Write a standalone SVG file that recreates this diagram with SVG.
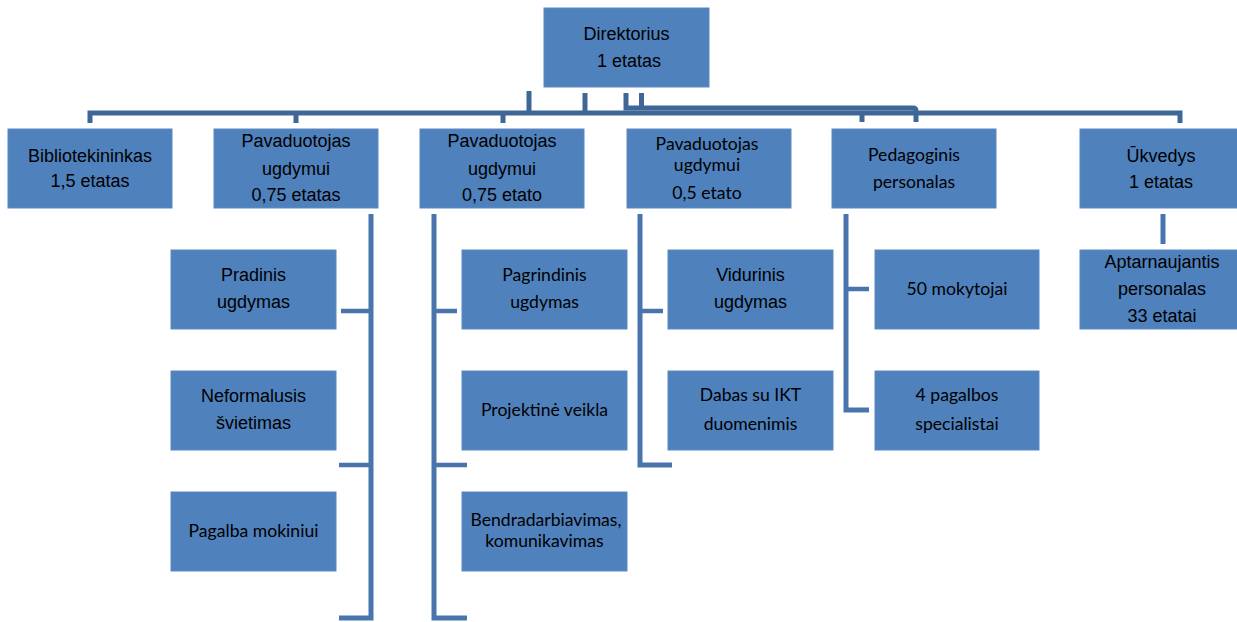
<svg xmlns="http://www.w3.org/2000/svg" width="1237" height="622" viewBox="0 0 1237 622">
<style>
.box{fill:#4f81bd;stroke:#5a8ac4;stroke-width:1}
.a{font-family:"Liberation Sans",Arial,sans-serif;font-size:18px;fill:#000;text-anchor:middle}
.c{font-family:Lato,"Noto Sans",sans-serif;font-size:17.6px;fill:#000;text-anchor:middle}
.top{fill:none;stroke:#3e6697;stroke-width:5}
.low{fill:none;stroke:#4a74ad;stroke-width:5}
.stub{fill:none;stroke:#4a74ad;stroke-width:4.5}
</style>
<rect width="1237" height="622" fill="#fff"/>
<g id="connectors">
<path class="top" d="M529,91 V113.5 M585,93 V113.5 M641.5,93 V108"/>
<path class="top" d="M626,93 V108 H913 Q916,108 916,111 V122"/>
<path class="top" d="M90,123 V113 H1180 V123 M296,113 V123 M503,113 V123 M862,113 V122"/>
<path class="low" d="M339,618 H371 V214"/>
<path class="stub" d="M341,311 H371 M339,465 H371"/>
<path class="low" d="M434,214 V618 H467"/>
<path class="stub" d="M434,311 H457 M434,465 H467"/>
<path class="low" d="M640,214 V465 H672"/>
<path class="stub" d="M640,311 H663"/>
<path class="low" d="M846,214 V410 H869"/>
<path class="stub" d="M846,289 H869"/>
<path class="low" d="M1163,214 V244"/>
</g>
<g id="direktorius">
<rect class="box" x="544" y="8" width="165" height="79"/>
<text class="a" x="626.5" y="40">Direktorius</text>
<text class="a" x="629" y="67">1 etatas</text>
</g>
<g id="bibliotekininkas">
<rect class="box" x="8" y="129" width="164" height="79"/>
<text class="a" x="90" y="162">Bibliotekininkas</text>
<text class="a" x="90" y="187">1,5 etatas</text>
</g>
<g id="pavaduotojas1">
<rect class="box" x="214" y="129" width="164" height="79"/>
<text class="a" x="296" y="147">Pavaduotojas</text>
<text class="a" x="296" y="174.5">ugdymui</text>
<text class="a" x="296" y="201">0,75 etatas</text>
</g>
<g id="pavaduotojas2">
<rect class="box" x="420" y="129" width="164" height="79"/>
<text class="a" x="502" y="147">Pavaduotojas</text>
<text class="a" x="502" y="174.5">ugdymui</text>
<text class="a" x="502" y="201">0,75 etato</text>
</g>
<g id="pavaduotojas3">
<rect class="box" x="627" y="129" width="164" height="79"/>
<text class="c" x="707" y="150">Pavaduotojas</text>
<text class="c" x="707" y="171">ugdymui</text>
<text class="c" x="707" y="199">0,5 etato</text>
</g>
<g id="pedagoginis">
<rect class="box" x="832" y="129" width="164" height="79"/>
<text class="c" x="914" y="161">Pedagoginis</text>
<text class="c" x="914" y="188">personalas</text>
</g>
<g id="ukvedys">
<rect class="box" x="1080" y="129" width="164" height="79"/>
<text class="a" x="1161" y="162">Ūkvedys</text>
<text class="a" x="1161" y="188">1 etatas</text>
</g>
<g id="pradinis">
<rect class="box" x="171" y="250" width="165" height="79"/>
<text class="a" x="253.5" y="281">Pradinis</text>
<text class="a" x="253.5" y="307.5">ugdymas</text>
</g>
<g id="neformalusis">
<rect class="box" x="171" y="371" width="165" height="79"/>
<text class="a" x="253.5" y="402">Neformalusis</text>
<text class="a" x="253.5" y="428.5">švietimas</text>
</g>
<g id="pagalba">
<rect class="box" x="171" y="492" width="165" height="79"/>
<text class="c" x="253.5" y="537">Pagalba mokiniui</text>
</g>
<g id="pagrindinis">
<rect class="box" x="462" y="250" width="165" height="79"/>
<text class="c" x="544.5" y="281">Pagrindinis</text>
<text class="c" x="544.5" y="308">ugdymas</text>
</g>
<g id="projektine">
<rect class="box" x="462" y="371" width="165" height="79"/>
<text class="c" x="544.5" y="416">Projektinė veikla</text>
</g>
<g id="bendradarbiavimas">
<rect class="box" x="462" y="492" width="165" height="79"/>
<text class="c" x="546" y="526">Bendradarbiavimas,</text>
<text class="c" x="544.5" y="546.5">komunikavimas</text>
</g>
<g id="vidurinis">
<rect class="box" x="668" y="250" width="165" height="79"/>
<text class="a" x="750.5" y="281">Vidurinis</text>
<text class="a" x="750.5" y="307.5">ugdymas</text>
</g>
<g id="dabas">
<rect class="box" x="668" y="371" width="165" height="79"/>
<text class="c" x="750.5" y="401">Dabas su IKT</text>
<text class="c" x="750.5" y="430">duomenimis</text>
</g>
<g id="mokytojai">
<rect class="box" x="875" y="250" width="164" height="79"/>
<text class="c" x="957" y="295">50 mokytojai</text>
</g>
<g id="specialistai">
<rect class="box" x="875" y="371" width="164" height="79"/>
<text class="c" x="957" y="401">4 pagalbos</text>
<text class="c" x="957" y="430">specialistai</text>
</g>
<g id="aptarnaujantis">
<rect class="box" x="1080" y="250" width="164" height="79"/>
<text class="a" x="1162" y="268">Aptarnaujantis</text>
<text class="a" x="1162" y="295">personalas</text>
<text class="a" x="1162" y="322">33 etatai</text>
</g>
</svg>
